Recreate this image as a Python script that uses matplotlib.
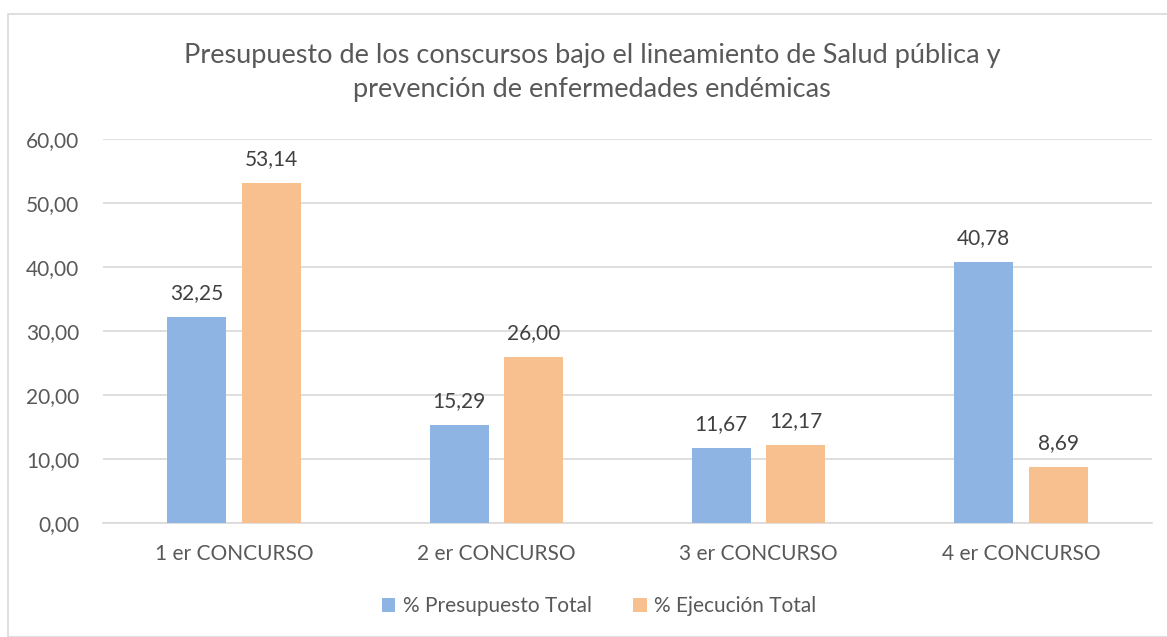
import matplotlib
matplotlib.use("Agg")
import matplotlib.pyplot as plt
import numpy as np
from matplotlib.patches import Rectangle

categories = ["1 er CONCURSO", "2 er CONCURSO", "3 er CONCURSO", "4 er CONCURSO"]
presupuesto = [32.25, 15.29, 11.67, 40.78]
ejecucion = [53.14, 26.00, 12.17, 8.69]
series_names = ["% Presupuesto Total", "% Ejecución Total"]
title = "Presupuesto de los conscursos bajo el lineamiento de Salud pública y\nprevención de enfermedades endémicas"

plt.rcParams['font.family'] = ['Lato', 'DejaVu Sans']
txt = "#595959"
c_blue = "#8EB4E3"
c_orange = "#F9C08F"
fs = 15

fig = plt.figure(figsize=(11.67, 6.37), dpi=100)
fig.patches.append(Rectangle((8/1167, 0.0), (1167-8)/1167 + 0.01, (637-14)/637, transform=fig.transFigure,
                             fill=False, edgecolor="#D9D9D9", linewidth=1.2))
ax = fig.add_axes([103/1167, 1-523/637, (1152-103)/1167, (523-139)/637])

x = np.arange(len(categories))
w = 0.225
off = (w + 0.06) / 2
b1 = ax.bar(x - off, presupuesto, w, color=c_blue, label=series_names[0], zorder=3)
b2 = ax.bar(x + off, ejecucion, w, color=c_orange, label=series_names[1], zorder=3)

for bars, vals in [(b1, presupuesto), (b2, ejecucion)]:
    for r, v in zip(bars, vals):
        ax.annotate(f"{v:.2f}".replace(".", ","), (r.get_x() + r.get_width()/2, v),
                    xytext=(0, 10), textcoords="offset points", ha="center", va="bottom",
                    fontsize=fs, color="#404040")

ax.set_xlim(-0.5, 3.5)
ax.set_ylim(0, 60)
ax.set_yticks(np.arange(0, 61, 10))
ax.set_yticklabels([f"{v:.2f}".replace(".", ",") for v in np.arange(0, 61, 10)], fontsize=fs, color=txt)
ax.set_xticks(x)
ax.set_xticklabels(categories, fontsize=fs, color=txt)
ax.tick_params(axis="both", length=0)
ax.tick_params(axis="y", pad=17)
ax.tick_params(axis="x", pad=15)
ax.grid(axis="y", color="#D9D9D9", linewidth=1.2, zorder=0)
for s in ["top", "right", "left"]:
    ax.spines[s].set_visible(False)
ax.spines["bottom"].set_color("#D9D9D9")
ax.spines["bottom"].set_linewidth(1.2)

fig.text(592/1167, 1-73/637, title, ha="center", va="center", fontsize=19.5, color=txt, linespacing=1.45)

leg = fig.legend(loc="center", bbox_to_anchor=(599/1167, 1-606/637), ncol=2, frameon=False,
                 fontsize=fs, handlelength=0.65, handleheight=0.65, handletextpad=0.35, columnspacing=2.0)
for t in leg.get_texts():
    t.set_color(txt)

fig.savefig("out.png", dpi=100)
